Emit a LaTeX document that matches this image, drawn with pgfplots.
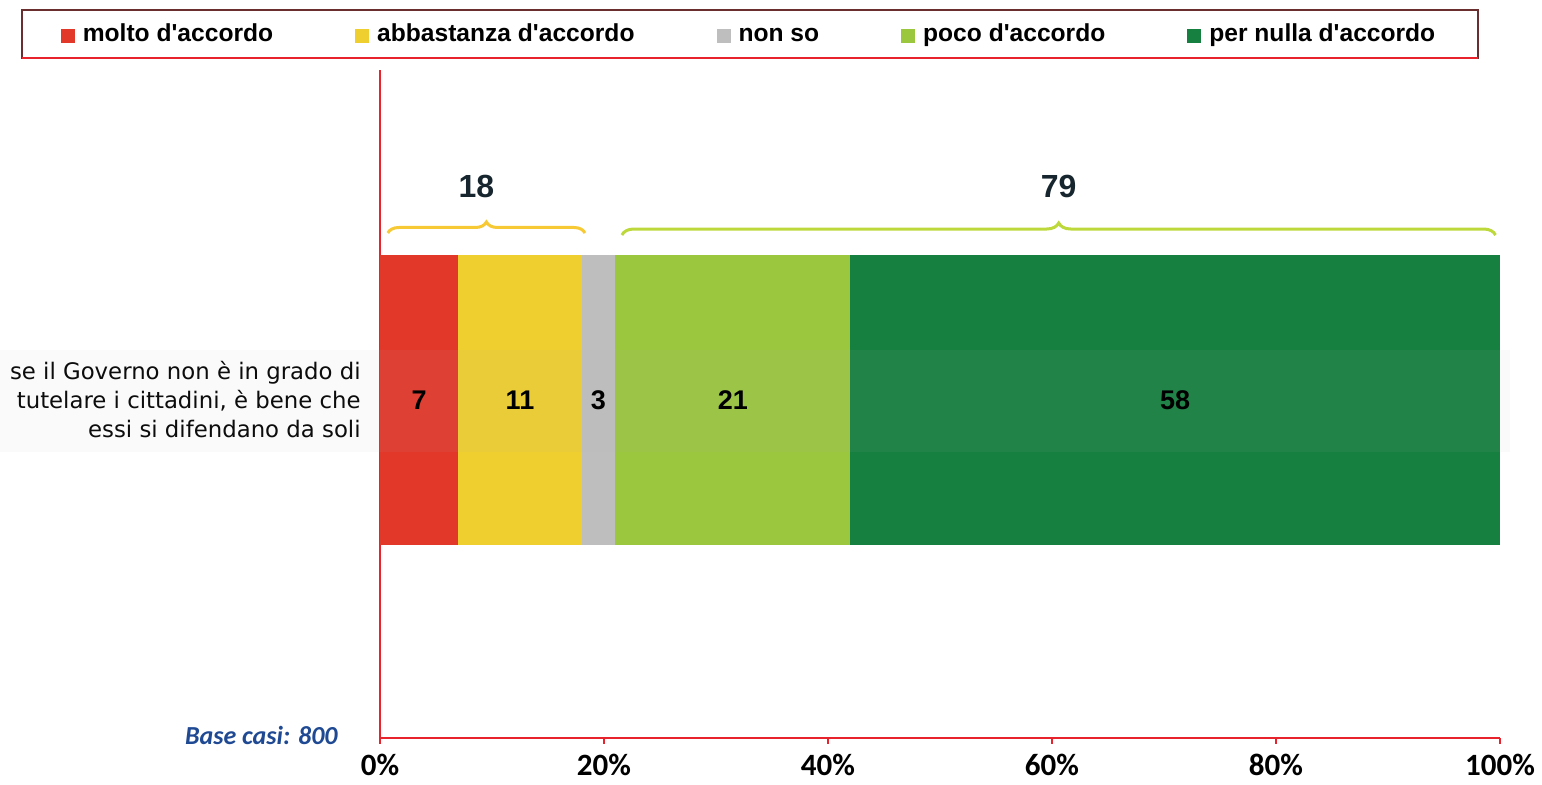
\documentclass[border=0pt]{standalone}
\usepackage{pgfplots}
\pgfplotsset{compat=1.18}
\usepackage{fontspec}
\setmainfont{Liberation Sans}[Ligatures=TeXOff]
\newfontfamily\tickfont{Carlito}
\newfontfamily\labfont{DejaVu Sans}
\usetikzlibrary{decorations.pathreplacing}
\definecolor{cred}{HTML}{E2382A}
\definecolor{cyellow}{HTML}{EFCF2F}
\definecolor{cgray}{HTML}{BEBEBF}
\definecolor{clgreen}{HTML}{9BC73F}
\definecolor{cdgreen}{HTML}{168040}
\definecolor{axisred}{HTML}{E8232B}
\definecolor{legmaroon}{HTML}{6B2E2E}
\definecolor{braceyellow}{HTML}{F6C935}
\definecolor{bracegreen}{HTML}{BDD83A}
\definecolor{labdark}{HTML}{17262E}
\definecolor{baseblue}{HTML}{1F4A93}
\pgfplotsset{sqleg/.style={legend image code/.code={\fill[#1] (0pt,-3.4pt) rectangle (7pt,4pt);}}}
\begin{document}
\begin{tikzpicture}
\path[use as bounding box] (0,0) rectangle (771pt,392pt);
\begin{axis}[
  at={(190pt,23pt)}, anchor=south west, scale only axis,
  width=560pt, height=334pt,
  xmin=0, xmax=100, ymin=0, ymax=1,
  axis x line=bottom, axis y line=left,
  axis line style={draw=axisred, line width=1pt},
  x axis line style={-}, y axis line style={-},
  xbar stacked, bar width=145pt,
  xtick={0,20,40,60,80,100},
  xticklabels={0\%,20\%,40\%,60\%,80\%,100\%},
  xtick align=outside, major tick length=3pt,
  x tick style={draw=axisred, line width=0.8pt},
  xticklabel style={font=\tickfont\bfseries\fontsize{15.5}{15.5}\selectfont, inner sep=0pt, yshift=-5pt, text=black},
  ytick={0.506},
  yticklabels={{se il Governo non è in grado di\\tutelare i cittadini{,} è bene che\\essi si difendano da soli}},
  y tick style={draw=none},
  yticklabel style={font=\labfont\fontsize{11.4}{14.5}\selectfont, align=right, inner sep=0pt, xshift=-8pt, text=black},
  legend style={at={(0.3304,1.05)}, anchor=center, draw=none, fill=none,
    font=\bfseries\fontsize{12.3}{14}\selectfont,
    nodes={text height=0.72em, text depth=0.22em},
    /tikz/every even column/.append style={column sep=39pt}},
  legend columns=5, legend cell align=left,
  clip=false,
]
\addplot[fill=cred, draw=none, sqleg] coordinates {(7,0.506)};
\addplot[fill=cyellow, draw=none, sqleg] coordinates {(11,0.506)};
\addplot[fill=cgray, draw=none, sqleg] coordinates {(3,0.506)};
\addplot[fill=clgreen, draw=none, sqleg] coordinates {(21,0.506)};
\addplot[fill=cdgreen, draw=none, sqleg] coordinates {(58,0.506)};
\legend{\hspace{2pt}molto d'accordo, \hspace{2pt}abbastanza d'accordo, \hspace{2pt}non so, \hspace{2pt}poco d'accordo, \hspace{2pt}per nulla d'accordo}
\coordinate (l1) at (axis cs:3.5,0.506);
\coordinate (l2) at (axis cs:12.5,0.506);
\coordinate (l3) at (axis cs:19.5,0.506);
\coordinate (l4) at (axis cs:31.5,0.506);
\coordinate (l5) at (axis cs:71,0.506);
\draw[decorate, decoration={brace, amplitude=5.5pt}, braceyellow, line width=1.5pt] (axis cs:0.7,0.756) -- (axis cs:18.3,0.756);
\draw[decorate, decoration={brace, amplitude=6pt}, bracegreen, line width=1.5pt] (axis cs:21.6,0.753) -- (axis cs:99.6,0.753);
\node[font=\bfseries\fontsize{16}{16}\selectfont, text=labdark] at (axis cs:8.6,0.825) {18};
\node[font=\bfseries\fontsize{16}{16}\selectfont, text=labdark] at (axis cs:60.6,0.825) {79};
\end{axis}
\fill[gray!60, opacity=0.07] (0,166pt) rectangle (755pt,217pt);
\node[font=\bfseries\fontsize{13.5}{14}\selectfont] at (l1) {7};
\node[font=\bfseries\fontsize{13.5}{14}\selectfont] at (l2) {11};
\node[font=\bfseries\fontsize{13.5}{14}\selectfont] at (l3) {3};
\node[font=\bfseries\fontsize{13.5}{14}\selectfont] at (l4) {21};
\node[font=\bfseries\fontsize{13.5}{14}\selectfont] at (l5) {58};
\draw[legmaroon, line width=0.9pt] (11pt,363pt) rectangle (739pt,387pt);
\draw[axisred, line width=1pt] (11pt,363pt) -- (739pt,363pt);
\node[anchor=east, inner sep=0pt, font=\tickfont\bfseries\itshape\fontsize{13}{13}\selectfont, text=baseblue] at (169pt,24.5pt) {Base casi: 800};
\end{tikzpicture}
\end{document}
